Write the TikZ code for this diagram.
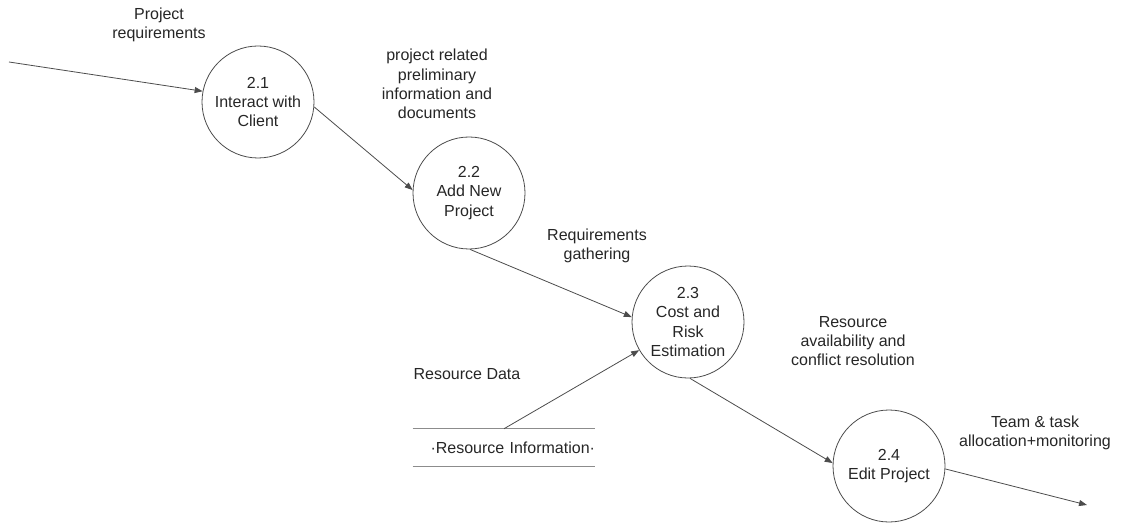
\documentclass[tikz,border=0pt]{standalone}
\usepackage{fontspec}
\setmainfont{Liberation Sans}
\usetikzlibrary{arrows.meta}
\begin{document}
\begin{tikzpicture}[x=0.75pt,y=-0.75pt,
  every node/.style={font=\fontsize{12}{14.5}\selectfont, align=center, text=black!85},
  process/.style={circle, draw=black!70, line width=0.6pt, minimum size=84pt, inner sep=0pt},
  flow/.style={draw=black!70, line width=0.6pt, -{Triangle[length=6pt,width=4.5pt]}},
  storeline/.style={draw=black!45, line width=0.6pt},
  ]
\useasboundingbox (0,0) rectangle (1126,527);

% processes
\node[process] (p21) at (258,102) {2.1\\Interact with\\Client};
\node[process] (p22) at (469,193) {2.2\\Add New\\Project};
\node[process] (p23) at (688,322) {2.3\\Cost and\\Risk\\Estimation};
\node[process] (p24) at (889,466) {2.4\\Edit Project};

% data store (open-ended box, text set towards the right end)
\node[inner sep=0pt, minimum width=136.5pt, minimum height=27.75pt,
      text width=136.5pt, align=right] (store) at (504,447.5) {·Resource Information·};
\draw[storeline] (store.north west) -- (store.north east);
\draw[storeline] (store.south west) -- (store.south east);

% free ends
\coordinate (src) at (9,62);
\coordinate (sink) at (1087,505);

% flows
\draw[flow] (src) -- (p21.169);
\draw[flow] (p21.-5) -- (p22.177);
\draw[flow] (p22.-89) -- (p23.175);
\draw[flow] (store.north) -- (p23.210);
\draw[flow] (p23.-88) -- (p24.177);
\draw[flow] (p24.-3) -- (sink);

% flow labels
\node (l1) at (159,25) {Project\\requirements};
\node (l2) at (437,84) {project related\\preliminary\\information and\\documents};
\node (l3) at (597,246) {Requirements\\gathering};
\node (l4) at (467,374) {Resource Data};
\node (l5) at (853,341) {Resource\\availability and\\conflict resolution};
\node (l6) at (1035,433) {Team \& task\\allocation+monitoring};
\end{tikzpicture}
\end{document}
